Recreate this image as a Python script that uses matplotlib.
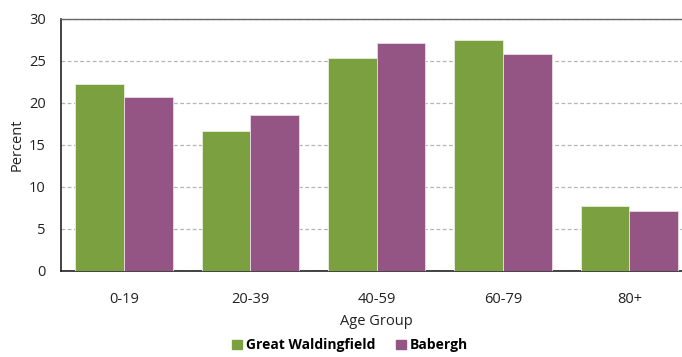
import numpy as np
import matplotlib.pyplot as plt
from matplotlib.patches import Patch

plt.rcParams['font.family'] = ['Open Sans', 'DejaVu Sans']

age_groups = ["0-19", "20-39", "40-59", "60-79", "80+"]
great_waldingfield = [22.3, 16.7, 25.3, 27.5, 7.7]
babergh = [20.7, 18.6, 27.2, 25.8, 7.2]

green = "#7ba03f"
purple = "#955584"

fig = plt.figure(figsize=(6.82, 3.57), dpi=100)
ax = fig.add_axes([0.0894, 0.2409, 0.9260, 0.7059])

x = np.arange(len(age_groups))
w = 0.385
ax.bar(x - w / 2, great_waldingfield, w, color=green, edgecolor="#e8efdc", linewidth=0.6, zorder=3)
ax.bar(x + w / 2, babergh, w, color=purple, edgecolor="#eadbe5", linewidth=0.6, zorder=3)

ax.set_xlim(-0.5, len(age_groups) - 0.5)
ax.set_ylim(0, 30)
ax.set_yticks(range(0, 31, 5))
ax.set_xticks(x)
ax.set_xticklabels(age_groups)
ax.tick_params(length=0, labelsize=10.5, colors="#222222")
ax.tick_params(axis="y", pad=11)
ax.tick_params(axis="x", pad=15)

ax.yaxis.grid(True, linestyle=(0, (3, 2)), color="#b5b5b5", linewidth=0.9, zorder=0)
ax.set_axisbelow(True)

for side in ["left", "bottom"]:
    ax.spines[side].set_color("#222222")
    ax.spines[side].set_linewidth(1.2)
ax.spines["top"].set_color("#666666")
ax.spines["top"].set_linewidth(1.0)
ax.spines["right"].set_visible(False)

ax.set_ylabel("Percent", fontsize=10.5, color="#222222", labelpad=3)
ax.set_xlabel("Age Group", fontsize=10.5, color="#222222", labelpad=5)

handles = [Patch(color=green, label="Great Waldingfield"),
           Patch(color=purple, label="Babergh")]
fig.legend(handles=handles, loc="lower center", bbox_to_anchor=(0.513, -0.022),
           ncol=2, frameon=False, handlelength=0.7, handleheight=0.7,
           handletextpad=0.3, columnspacing=1.5,
           prop={"weight": "bold", "size": 10})

fig.savefig("out.png", dpi=100)
